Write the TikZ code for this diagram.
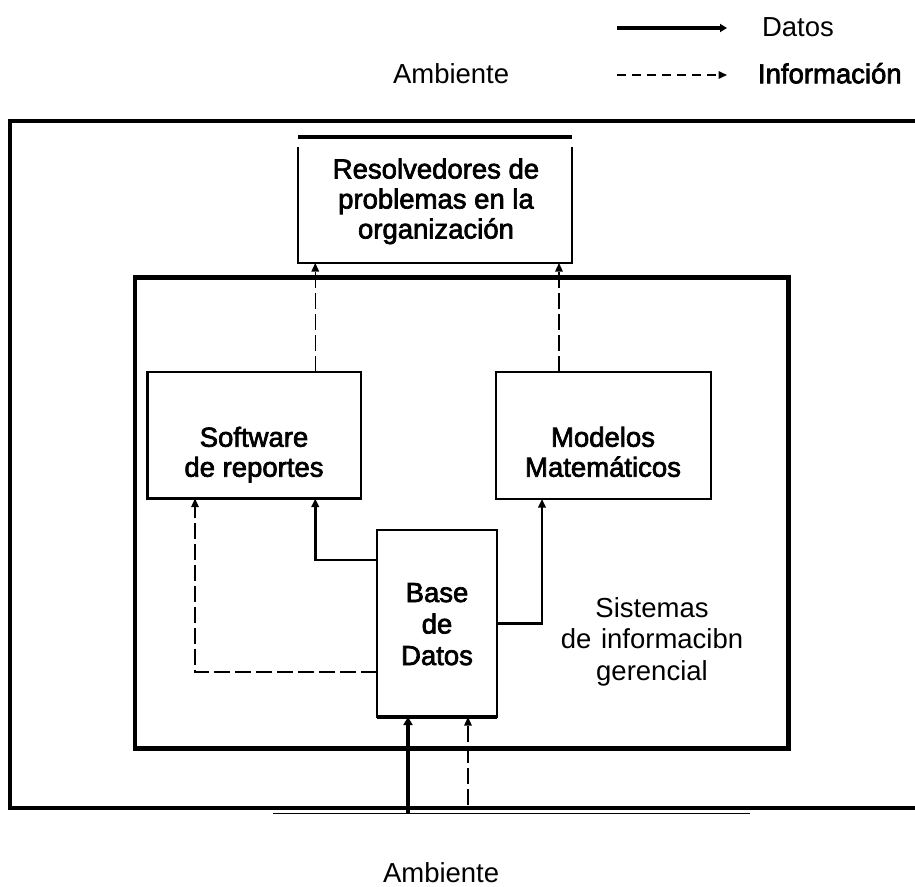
\documentclass[tikz,border=0pt]{standalone}
\usepackage{fontspec}
\setmainfont{Liberation Sans}
\newfontfamily\heavyfont[FakeBold=2.5]{Liberation Sans}
\usetikzlibrary{arrows.meta}

\tikzset{
  every node/.style={inner sep=0pt, outer sep=0pt},
  lbl/.style={font=\fontsize{27.5}{31.5}\selectfont, align=center, anchor=base},
  heavylbl/.style={font=\heavyfont\fontsize{27.5}{31.5}\selectfont, align=center, anchor=base},
  panel/.style={draw, line width=2.6pt},
  smalltip/.style={-{Triangle[width=7.5pt,length=8.5pt]}},
  dat/.style={line width=2.6pt, smalltip},
  datthick/.style={line width=4.8pt, -{Triangle[width=9pt,length=8pt]}},
  info/.style={line width=1.3pt, dash pattern=on 16pt off 5pt, smalltip},
}

\begin{document}
\begin{tikzpicture}[x=1pt,y=-1pt]
\useasboundingbox (0,0) rectangle (915,886);

% legend
\coordinate (ld1) at (617,28);
\coordinate (ld2) at (727,28);
\draw[line width=4.8pt, -{Triangle[width=8pt,length=7pt]}] (ld1) -- (ld2);
\node[lbl, anchor=base west] (ldtext) at (762,36.7) {Datos};
\coordinate (li1) at (617,75);
\coordinate (li2) at (727,75);
\draw[line width=2pt, dash pattern=on 9pt off 6pt, smalltip] (li1) -- (li2);
\node[heavylbl, anchor=base west] (litext) at (758,83.3) {Información};

% environment labels
\node[lbl, anchor=base west] (ambtop) at (393,83.3) {Ambiente};
\node[lbl, anchor=base west] (ambbot) at (383,882) {Ambiente};

% organisation frame (runs past the right edge)
\draw[line width=3.4pt] (935,121) -- (10,121) -- (10,808) -- (935,808);
\draw[line width=1.2pt] (273,813.5) -- (750,813.5);

% management information system
\node[draw, line width=4.2pt, minimum width=653.5pt, minimum height=471pt] (mis) at (461.75,513) {};
\node[lbl] (mistext) at (652,680) {Sistemas\\de\hspace{0.35em}informacibn\\gerencial};

% problem solvers
\node[minimum width=274pt, minimum height=126pt] (res) at (435,200) {};
\draw[line width=2.8pt] ([yshift=-10pt]res.north west) -- (res.south west)
  -- (res.south east) -- ([yshift=-10pt]res.north east);
\draw[line width=3.4pt] (res.north west) -- (res.north east);
\node[heavylbl, font=\heavyfont\fontsize{27.5}{30}\selectfont] (restext) at (436,238.5)
  {Resolvedores de\\problemas en la\\organización};

% reporting software and models
\node[panel, minimum width=213.5pt, minimum height=126.5pt] (sw) at (254.25,435.25) {};
\node[heavylbl, font=\heavyfont\fontsize{27.5}{30}\selectfont] (swtext) at (254,476.7) {Software\\de reportes};
\node[panel, minimum width=215pt, minimum height=127pt] (mm) at (603.5,435.5) {};
\node[heavylbl, font=\heavyfont\fontsize{27.5}{30}\selectfont] (mmtext) at (603,476.7) {Modelos\\Matemáticos};

% database
\node[panel, minimum width=120pt, minimum height=187pt] (base) at (437,623.5) {};
\draw[line width=4.2pt] (base.south west) -- (base.south east);
\node[heavylbl] (basetext) at (437,665) {Base\\de\\Datos};

% flows towards the problem solvers
\draw[info] ([xshift=61pt]sw.north) coordinate (a1) -- (a1 |- res.south);
\draw[info] ([xshift=-44.5pt]mm.north) coordinate (a2) -- (a2 |- res.south);

% flows out of the database
\draw[dat] ([yshift=63.5pt]base.west) -| ([xshift=61pt]sw.south);
\draw[dat] (base.east) -| ([xshift=-61.5pt]mm.south);
\draw[info] ([yshift=-48.5pt]base.west) -| ([xshift=-59.25pt]sw.south);

% inputs from the environment
\coordinate (in1) at (408,813.5);
\coordinate (in2) at (468,805);
\draw[datthick] (in1) -- (in1 |- base.south);
\draw[info] (in2) -- (in2 |- base.south);
\end{tikzpicture}
\end{document}
